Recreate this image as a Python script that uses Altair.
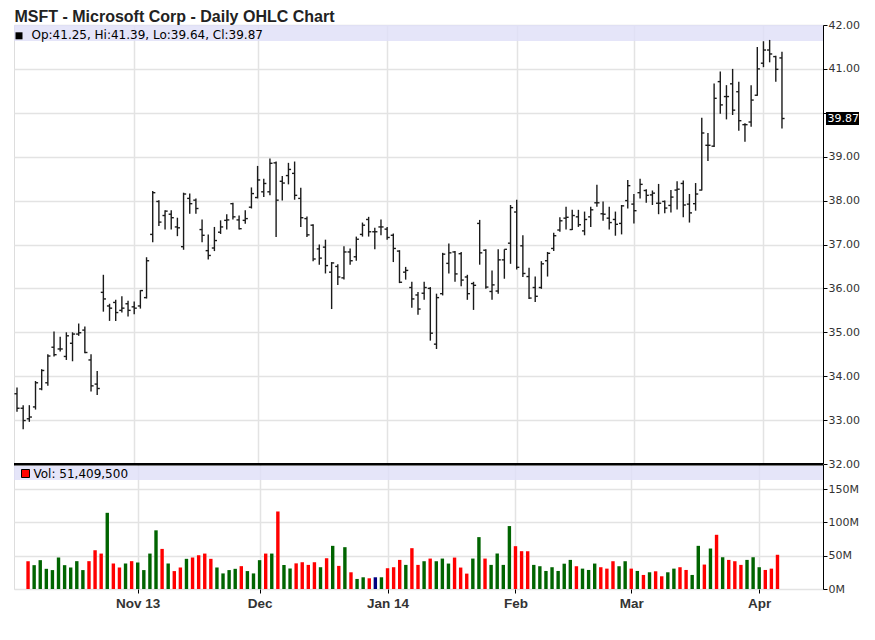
import altair as alt
import pandas as pd

# ---------------- data ----------------
opens = [33.60, 33.27, 33.03, 33.30, 33.71, 33.85, 34.66, 34.62, 34.45, 34.75,
         34.96, 35.05, 34.37, 33.82, 35.91, 35.60, 35.68, 35.50, 35.65, 35.58,
         35.60, 35.79, 37.23, 37.98, 37.66, 37.69, 37.40, 36.95, 38.05, 38.01,
         37.34, 36.86, 36.92, 37.28, 37.55, 37.93, 37.56, 37.55, 37.85, 38.07,
         38.20, 38.20, 38.86, 38.44, 38.57, 38.62, 38.05, 37.59, 37.44, 36.90,
         36.94, 36.37, 36.50, 36.24, 36.83, 36.72, 37.23, 37.57, 37.29, 37.40,
         37.35, 37.21, 36.85, 36.37, 36.02, 35.85, 35.89, 36.00, 34.73, 35.88,
         36.57, 36.83, 36.79, 36.26, 36.11, 37.48, 36.87, 35.93, 35.94, 36.65,
         37.03, 37.74, 36.97, 36.27, 36.02, 36.02, 36.63, 36.91, 37.33, 37.60,
         37.34, 37.63, 37.31, 37.63, 37.95, 37.70, 37.60, 37.57, 37.48, 38.00,
         37.92, 38.18, 38.23, 38.13, 37.94, 37.98, 37.89, 38.24, 38.39, 37.92,
         37.93, 38.24, 39.26, 39.24, 40.71, 40.37, 40.66, 40.48, 39.73, 39.79,
         40.40, 41.13, 41.43, 41.28, 41.25]
highs = [33.74, 33.34, 33.34, 33.89, 34.16, 34.50, 35.02, 34.90, 35.00, 35.00,
         35.20, 35.13, 34.50, 34.12, 36.31, 35.65, 35.74, 35.82, 35.72, 35.70,
         35.96, 36.71, 38.22, 38.01, 37.78, 37.78, 37.61, 38.18, 38.16, 38.05,
         37.57, 37.23, 37.40, 37.55, 37.69, 37.95, 37.66, 37.78, 38.30, 38.79,
         38.50, 38.96, 38.89, 38.56, 38.86, 38.89, 38.29, 37.64, 37.46, 37.00,
         37.11, 36.60, 36.55, 36.96, 36.91, 37.18, 37.50, 37.63, 37.38, 37.57,
         37.40, 37.25, 36.87, 36.49, 36.15, 35.92, 36.15, 36.03, 35.88, 36.81,
         37.02, 36.85, 36.83, 36.31, 36.15, 37.56, 36.89, 36.41, 36.89, 36.89,
         37.90, 38.02, 37.21, 36.47, 36.27, 36.62, 36.83, 37.27, 37.62, 37.86,
         37.79, 37.79, 37.75, 37.86, 38.36, 37.98, 37.86, 37.75, 37.90, 38.47,
         38.15, 38.50, 38.26, 38.23, 38.38, 38.00, 38.24, 38.44, 38.46, 38.15,
         38.40, 39.89, 39.54, 40.67, 40.94, 40.63, 41.00, 40.71, 39.76, 40.63,
         41.50, 41.63, 41.66, 41.30, 41.39]
lows = [33.19, 32.79, 32.96, 33.24, 33.68, 33.78, 34.45, 34.56, 34.37, 34.34,
        34.92, 34.52, 33.65, 33.57, 35.47, 35.26, 35.26, 35.45, 35.36, 35.41,
        35.54, 35.77, 37.05, 37.42, 37.34, 37.34, 37.19, 36.88, 37.70, 37.70,
        37.05, 36.66, 36.85, 37.24, 37.34, 37.57, 37.34, 37.47, 37.82, 38.05,
        38.08, 38.12, 37.17, 38.00, 38.37, 38.02, 37.40, 37.17, 36.62, 36.54,
        36.34, 35.53, 36.08, 36.20, 36.54, 36.63, 37.18, 37.18, 36.89, 37.21,
        37.11, 36.60, 36.12, 36.20, 35.56, 35.40, 35.74, 34.81, 34.62, 35.84,
        36.34, 36.15, 36.05, 35.74, 35.51, 36.54, 35.99, 35.74, 35.88, 36.22,
        36.56, 36.43, 36.26, 35.76, 35.69, 35.99, 36.27, 36.85, 37.29, 37.34,
        37.33, 37.40, 37.21, 37.40, 37.86, 37.54, 37.34, 37.20, 37.23, 37.82,
        37.48, 38.05, 37.95, 37.90, 37.69, 37.71, 37.73, 37.80, 37.62, 37.50,
        37.77, 38.23, 38.90, 39.22, 39.98, 39.85, 39.95, 39.59, 39.34, 39.68,
        40.39, 41.04, 41.15, 40.71, 39.64]
closes = [33.27, 32.99, 33.07, 33.85, 34.13, 34.46, 34.49, 34.62, 34.92, 34.96,
          34.99, 34.54, 33.78, 33.72, 35.76, 35.55, 35.45, 35.55, 35.50, 35.55,
          35.95, 36.63, 38.18, 37.51, 37.76, 37.61, 37.38, 38.15, 37.93, 37.82,
          37.21, 36.75, 37.09, 37.40, 37.56, 37.63, 37.36, 37.59, 38.16, 38.47,
          38.39, 38.85, 38.01, 38.40, 38.71, 38.12, 37.61, 37.22, 36.67, 36.69,
          36.52, 36.58, 36.26, 36.83, 36.63, 37.12, 37.44, 37.29, 37.29, 37.40,
          37.16, 36.91, 36.14, 36.41, 35.76, 35.53, 36.02, 34.98, 35.79, 36.78,
          36.81, 36.33, 36.19, 35.88, 36.07, 36.81, 36.03, 36.08, 36.65, 36.89,
          37.84, 36.48, 36.34, 35.78, 35.82, 36.56, 36.80, 37.20, 37.54, 37.62,
          37.66, 37.45, 37.57, 37.79, 37.95, 37.69, 37.50, 37.46, 37.88, 38.34,
          37.77, 38.37, 38.12, 38.17, 37.94, 37.83, 38.08, 38.26, 37.90, 37.72,
          38.15, 39.54, 39.26, 40.33, 40.18, 40.37, 40.06, 39.82, 39.73, 40.29,
          41.00, 41.43, 41.34, 40.99, 39.87]
# volume in millions of shares (first day's bar is not visible)
volumes_m = [None, 41.8, 35.8, 43.3, 30.3, 28.4, 47.3, 35.8, 32.3, 41.8,
             28.4, 41.8, 58.2, 53.2, 114.4, 38.3, 32.3, 38.3, 41.8, 39.8,
             28.4, 53.2, 88.1, 60.2, 38.3, 26.9, 32.3, 45.3, 47.3, 50.7,
             53.2, 45.3, 32.3, 23.4, 28.4, 30.3, 34.3, 26.9, 23.4, 43.3,
             53.2, 53.2, 116.4, 36.0, 30.8, 38.5, 40.2, 36.2, 40.2, 32.7,
             46.2, 64.8, 34.7, 62.8, 25.1, 15.1, 17.6, 16.1, 17.6, 17.6,
             31.2, 32.7, 43.7, 36.2, 61.3, 36.2, 41.7, 45.7, 41.7, 45.7,
             38.2, 47.2, 32.2, 23.1, 45.7, 77.9, 45.7, 36.2, 53.3, 36.2,
             94.5, 64.3, 56.8, 56.8, 36.2, 34.2, 27.1, 32.7, 27.1, 38.0,
             43.7, 34.2, 30.6, 28.6, 38.2, 32.7, 30.6, 41.7, 34.2, 41.7,
             30.6, 27.1, 21.1, 25.1, 26.6, 19.1, 25.1, 30.6, 32.7, 28.6,
             21.1, 64.8, 36.7, 60.8, 81.4, 47.7, 43.7, 41.7, 36.2, 43.7,
             47.7, 32.7, 28.6, 30.6, 51.4]

tick_idx = [19, 39, 60, 81, 100, 121]
tick_labels = ["Nov 13", "Dec", "Jan 14", "Feb", "Mar", "Apr"]
price_ticks = [32, 33, 34, 35, 36, 37, 38, 39, 40, 41, 42]
vol_ticks = [0, 50, 100, 150]
title_text = "MSFT - Microsoft Corp - Daily OHLC Chart"
price_header = "Op:41.25, Hi:41.39, Lo:39.64, Cl:39.87"
vol_header = "Vol: 51,409,500"
last_label = "39.87"

# ---------------- table ----------------
n = len(closes)
direction = ["none"] + [
    "up" if c > p else ("down" if c < p else "flat")
    for p, c in zip(closes[:-1], closes[1:])
]
df = pd.DataFrame({
    "idx": list(range(n)), "open": opens, "high": highs, "low": lows,
    "close": closes, "vol": volumes_m, "dir": direction,
})

W = 809
PH = 439
VH = 125
GRID = "#e3e3e3"
BAND = "#dedef8"

xs = alt.Scale(domain=[-0.486, 130.65], nice=False, zero=False)
ys = alt.Scale(domain=[32, 42], nice=False, zero=False)
vs = alt.Scale(domain=[0, 187.7], nice=False, zero=False)

x_label_expr = " : ".join(
    f"datum.value == {i} ? '{t}'" for i, t in zip(tick_idx, tick_labels)
) + " : ''"

x_axis_price = alt.Axis(values=tick_idx, grid=True, labels=False, ticks=False,
                        domain=False, title=None, gridColor=GRID, gridWidth=1.5)
x_axis_vol = alt.Axis(values=tick_idx, grid=True, labelExpr=x_label_expr,
                      ticks=True, tickSize=4, tickColor="#000", domain=False,
                      title=None, gridColor=GRID, gridWidth=1.5,
                      labelFont="Liberation Sans", labelFontWeight="bold",
                      labelFontSize=13.5, labelColor="#333", labelPadding=3,
                      labelFlush=False)
y_axis_price = alt.Axis(orient="right", values=price_ticks, title=None,
                        labelExpr="datum.value == 40 ? '' : format(datum.value, '.2f')",
                        tickSize=4, tickColor="#000", domainColor="#000",
                        labelFont="DejaVu Sans", labelFontSize=11, labelColor="#333",
                        labelPadding=1, grid=True, gridColor=GRID, gridWidth=1.5)
y_axis_vol = alt.Axis(orient="right", values=vol_ticks, title=None,
                      labelExpr="datum.value + 'M'",
                      tickSize=4, tickColor="#000", domainColor="#000",
                      labelFont="DejaVu Sans", labelFontSize=11, labelColor="#333",
                      labelPadding=1, grid=True, gridColor=GRID, gridWidth=1.5)

one = pd.DataFrame({"t": [0]})

# ---------------- price panel ----------------
band = alt.Chart(one).mark_rect(fill=BAND, opacity=0.8).encode(
    x=alt.value(0), x2=alt.value(W), y=alt.value(0), y2=alt.value(16))

hl = alt.Chart(df).mark_rule(color="#1a1a1a", strokeWidth=1.4).encode(
    x=alt.X("idx:Q", scale=xs, axis=x_axis_price),
    y=alt.Y("low:Q", scale=ys, axis=y_axis_price),
    y2="high:Q")
op = alt.Chart(df).mark_rule(color="#1a1a1a", strokeWidth=1.4, xOffset=-2.6).encode(
    x=alt.X("idx:Q", scale=xs, axis=x_axis_price), x2="idx:Q",
    y=alt.Y("open:Q", scale=ys, axis=y_axis_price))
cl = alt.Chart(df).mark_rule(color="#1a1a1a", strokeWidth=1.4, x2Offset=2.6).encode(
    x=alt.X("idx:Q", scale=xs, axis=x_axis_price), x2="idx:Q",
    y=alt.Y("close:Q", scale=ys, axis=y_axis_price))

p_square = alt.Chart(one).mark_rect(fill="#000").encode(
    x=alt.value(1.5), x2=alt.value(8.5), y=alt.value(7.3), y2=alt.value(14.3))
p_text = alt.Chart(pd.DataFrame({"t": [price_header]})).mark_text(
    align="left", baseline="alphabetic", font="DejaVu Sans", fontSize=12, color="#000"
).encode(x=alt.value(17.5), y=alt.value(14.3), text="t:N")

title = alt.Chart(pd.DataFrame({"t": [title_text]})).mark_text(
    align="left", baseline="top", font="Liberation Sans", fontSize=16,
    fontWeight="bold", color="#222"
).encode(x=alt.value(0.5), y=alt.value(-16), text="t:N")

last = df[df["idx"] == n - 1]
last_box = alt.Chart(last).transform_calculate(
    ytop="datum.close + 0.15", ybot="datum.close - 0.15"
).mark_rect(fill="#000").encode(
    x=alt.value(W + 3), x2=alt.value(W + 36),
    y=alt.Y("ytop:Q", scale=ys, axis=y_axis_price), y2="ybot:Q")
last_txt = alt.Chart(last.assign(lbl=last_label)).mark_text(
    align="left", baseline="middle", font="DejaVu Sans", fontSize=11, color="#fff"
).encode(x=alt.value(W + 4.5), y=alt.Y("close:Q", scale=ys, axis=y_axis_price),
         text="lbl:N")

price = alt.layer(band, hl, op, cl, p_square, p_text, title, last_box, last_txt
                  ).properties(width=W, height=PH)

# ---------------- volume panel ----------------
vband = alt.Chart(one).mark_rect(fill=BAND, opacity=0.8).encode(
    x=alt.value(0), x2=alt.value(W), y=alt.value(2), y2=alt.value(16))
bars = alt.Chart(df).transform_filter("isValid(datum.vol)").mark_bar(width=3.4).encode(
    x=alt.X("idx:Q", scale=xs, axis=x_axis_vol),
    y=alt.Y("vol:Q", scale=vs, axis=y_axis_vol),
    color=alt.Color("dir:N", scale=alt.Scale(domain=["up", "down", "flat"],
                                             range=["#006400", "#ff0000", "#000080"]),
                    legend=None))
sep = alt.Chart(one).mark_rule(color="#000", strokeWidth=2.4).encode(
    x=alt.value(0), x2=alt.value(W), y=alt.value(0.2))
v_square = alt.Chart(one).mark_rect(fill="#ff0000", stroke="#000", strokeWidth=1).encode(
    x=alt.value(7.5), x2=alt.value(15.5), y=alt.value(5.5), y2=alt.value(13.5))
v_text = alt.Chart(pd.DataFrame({"t": [vol_header]})).mark_text(
    align="left", baseline="alphabetic", font="DejaVu Sans", fontSize=12, color="#000"
).encode(x=alt.value(19.5), y=alt.value(14), text="t:N")

volume = alt.layer(vband, bars, sep, v_square, v_text).properties(width=W, height=VH)

chart = alt.vconcat(price, volume, spacing=0, bounds="flush").resolve_scale(
    color="independent"
).properties(
    padding={"left": 4, "top": 0, "right": 4, "bottom": 4}
).configure_view(stroke="#000", strokeWidth=1).configure(background="white")

chart.save("out.html", embed_options={"renderer": "svg", "actions": False})
